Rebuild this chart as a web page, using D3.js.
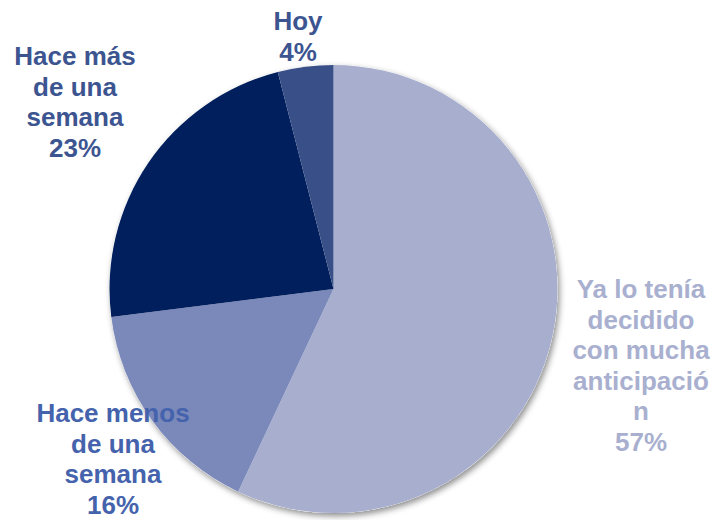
<!DOCTYPE html>
<html>
<head>
<meta charset="utf-8">
<script src="https://cdn.jsdelivr.net/npm/d3@7"></script>
<style>
  html, body { margin: 0; padding: 0; background: #fff; }
  svg { display: block; }
</style>
</head>
<body>
<svg id="chart" width="712" height="520"></svg>
<script>
// Survey answers: when the decision was made
const categories = ["Ya lo tenía decidido con mucha anticipación", "Hace menos de una semana", "Hace más de una semana", "Hoy"];
const values = [57, 16, 23, 4];
const labelLines = [
  ["Ya lo tenía", "decidido", "con mucha", "anticipació", "n"],
  ["Hace menos", "de una", "semana"],
  ["Hace más", "de una", "semana"],
  ["Hoy"]
];
const sliceColors = ["#A8AFCE", "#7A88BA", "#001F5C", "#384F87"];
const labelColors = ["#A9B0CF", "#4563AC", "#3C5591", "#3C5591"];
// anchor (centre x, first baseline y) of each label block
const labelAnchors = [[641, 298], [113, 422], [75, 65], [298, 30]];

const svg = d3.select("#chart");
const cx = 333.5, cy = 289, r = 224;

const defs = svg.append("defs");
const f = defs.append("filter").attr("id", "shadow")
  .attr("x", "-10%").attr("y", "-10%").attr("width", "120%").attr("height", "120%");
f.append("feDropShadow").attr("dx", 2).attr("dy", 3).attr("stdDeviation", 3)
  .attr("flood-color", "#000").attr("flood-opacity", 0.45);

const pie = d3.pie().sort(null).value(d => d)(values);
const arc = d3.arc().innerRadius(0).outerRadius(r);

const g = svg.append("g").attr("transform", `translate(${cx},${cy})`);
g.append("circle").attr("r", r).attr("fill", "#fff").attr("filter", "url(#shadow)");
g.selectAll("path.slice").data(pie).join("path")
  .attr("class", "slice")
  .attr("d", arc)
  .attr("fill", (d, i) => sliceColors[i]);

const lineH = 30.5;
const labels = svg.append("g")
  .attr("font-family", "'Liberation Sans', Arial, sans-serif")
  .attr("font-weight", "bold")
  .attr("font-size", 26)
  .attr("text-anchor", "middle");

pie.forEach((d, i) => {
  const [ax, ay] = labelAnchors[i];
  const lines = labelLines[i].concat([d3.format(".0%")(values[i] / d3.sum(values))]);
  const t = labels.append("text")
    .attr("fill", labelColors[i])
    .attr("aria-label", categories[i]);
  lines.forEach((s, k) => {
    t.append("tspan").attr("x", ax).attr("y", ay + k * lineH).text(s);
  });
});
</script>
</body>
</html>
